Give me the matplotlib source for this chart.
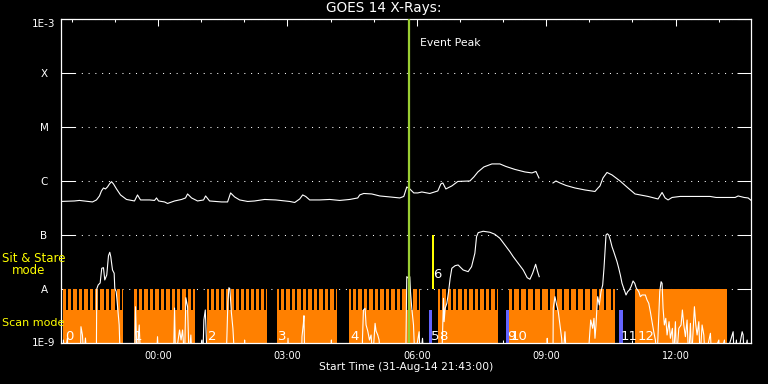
#----------GOES X-ray summary plot----------
#Long and short channel flux with scan / sit & stare mode strip along the bottom
#Times are hours from 01-Sep-14 00:00, fluxes are log10 (W/m^2)

import matplotlib
matplotlib.use("Agg")
import matplotlib.pyplot as plt
from matplotlib.ticker import MultipleLocator, NullLocator
import numpy as np

#---Data---
StartHour = -(2 + 43/60 - 0.4667)   #21:43 on 31-Aug
EndHour = StartHour + 16.0
EventPeak = 5.815

#1-8 A channel, (hour, log10 flux); nan = data gap
LongChannel = [
    (-2.263, -6.384), (-1.938, -6.375), (-1.822, -6.365), (-1.520, -6.393), (-1.428, -6.356),
    (-1.358, -6.282), (-1.312, -6.189), (-1.265, -6.134), (-1.219, -6.152), (-1.172, -6.115),
    (-1.126, -6.059), (-1.079, -6.017), (-1.033, -6.059), (-0.963, -6.152), (-0.870, -6.263),
    (-0.731, -6.347), (-0.546, -6.375), (-0.476, -6.263), (-0.406, -6.356), (-0.197, -6.356),
    (-0.081, -6.365), (-0.035, -6.319), (0.012, -6.375), (0.151, -6.393), (0.221, -6.421),
    (0.383, -6.375), (0.546, -6.347), (0.638, -6.319), (0.685, -6.245), (0.778, -6.319),
    (0.917, -6.375), (1.056, -6.356), (1.103, -6.282), (1.195, -6.375), (1.474, -6.393),
    (1.613, -6.393), (1.683, -6.226), (1.776, -6.300), (1.892, -6.356), (2.078, -6.384),
    (2.240, -6.375), (2.472, -6.347), (2.728, -6.356), (3.053, -6.384), (3.169, -6.403),
    (3.285, -6.338), (3.354, -6.263), (3.424, -6.291), (3.517, -6.356), (3.749, -6.356),
    (3.981, -6.347), (4.213, -6.365), (4.445, -6.347), (4.631, -6.319), (4.677, -6.263),
    (4.770, -6.236), (4.956, -6.245), (5.142, -6.282), (5.374, -6.300), (5.606, -6.319),
    (5.699, -6.291), (5.768, -6.115), (5.838, -6.152), (5.931, -6.226), (6.024, -6.226),
    (6.117, -6.208), (6.302, -6.236), (6.488, -6.189), (6.558, -6.059), (6.604, -6.041),
    (6.674, -6.152), (6.813, -6.096), (6.952, -6.013), (7.231, -6.004), (7.324, -5.929),
    (7.417, -5.837), (7.556, -5.744), (7.742, -5.688), (7.927, -5.688), (8.067, -5.735),
    (8.276, -5.790), (8.508, -5.837), (8.670, -5.855), (8.763, -5.827), (8.833, -5.948),
    (9.000, np.nan),
    (9.158, -6.041), (9.227, -6.004), (9.320, -6.041), (9.459, -6.087), (9.668, -6.134),
    (9.900, -6.171), (10.132, -6.199), (10.202, -6.134), (10.248, -6.096), (10.318, -5.948),
    (10.411, -5.846), (10.527, -5.892), (10.713, -6.004), (10.898, -6.134), (11.061, -6.245),
    (11.363, -6.291), (11.595, -6.338), (11.688, -6.217), (11.758, -6.319), (11.827, -6.356),
    (11.920, -6.310), (12.106, -6.291), (12.570, -6.291), (12.802, -6.291), (12.941, -6.310),
    (13.150, -6.310), (13.382, -6.310), (13.452, -6.282), (13.591, -6.310), (13.684, -6.319),
    (13.754, -6.365),
]

#0.5-4 A channel, -9.3 = below the plot floor
ShortChannel = [
    (-2.263, -9.3), (-2.200, -9.3), (-2.194, -8.954), (-2.170, -9.3), (-2.101, -8.917),
    (-2.080, -9.3), (-1.800, -9.3), (-1.787, -8.707), (-1.753, -8.861), (-1.720, -9.3),
    (-1.683, -8.917), (-1.650, -9.3), (-1.430, -9.3), (-1.421, -8.007), (-1.388, -7.933),
    (-1.342, -7.896), (-1.305, -7.623), (-1.265, -7.612), (-1.235, -7.840), (-1.189, -7.748),
    (-1.149, -7.390), (-1.119, -7.327), (-1.096, -7.408), (-1.072, -7.562), (-1.056, -7.655),
    (-1.017, -7.716), (-1.003, -7.994), (-0.970, -8.057), (-0.956, -8.174), (-0.901, -8.675),
    (-0.877, -9.3), (-0.539, -9.3), (-0.522, -8.336), (-0.487, -9.3), (-0.436, -8.675),
    (-0.406, -9.3), (-0.035, -9.3), (-0.012, -8.892), (0.012, -9.3), (0.360, -9.3),
    (0.383, -8.360), (0.406, -9.3), (0.499, -8.768), (0.534, -8.954), (0.569, -8.768),
    (0.615, -9.3), (0.645, -8.169), (0.685, -8.336), (0.720, -9.3), (0.761, -8.861),
    (0.789, -9.3), (0.995, -9.3), (1.017, -8.954), (1.040, -9.3), (1.063, -8.583),
    (1.096, -8.397), (1.119, -8.922), (1.137, -9.3), (1.580, -9.3), (1.597, -8.892),
    (1.620, -8.243), (1.644, -7.983), (1.667, -8.007), (1.699, -8.429), (1.736, -8.737),
    (1.776, -9.3), (1.995, -9.3), (2.008, -8.954), (2.020, -9.3), (3.000, -9.3),
    (3.014, -8.922), (3.030, -9.3), (3.331, -9.3), (3.338, -8.892), (3.371, -8.644),
    (3.384, -8.503), (3.401, -9.3), (4.010, -9.3), (4.020, -8.954), (4.030, -9.3),
    (4.735, -9.3), (4.740, -8.954), (4.763, -8.397), (4.801, -8.365), (4.824, -8.675),
    (4.863, -8.787), (4.903, -8.954), (4.940, -8.861), (4.979, -9.3), (5.033, -8.644),
    (5.056, -8.787), (5.095, -8.861), (5.126, -8.954), (5.153, -9.3), (5.745, -9.3),
    (5.768, -7.779), (5.808, -7.809), (5.838, -7.779), (5.854, -8.057), (5.884, -8.365),
    (5.924, -8.675), (5.954, -9.3), (6.054, -8.800), (6.082, -9.3), (6.133, -8.922),
    (6.163, -9.3), (6.581, -9.3), (6.620, -8.180), (6.634, -8.614), (6.658, -8.365),
    (6.697, -8.273), (6.737, -8.057), (6.774, -7.809), (6.813, -7.623), (6.890, -7.575),
    (6.959, -7.562), (7.075, -7.655), (7.191, -7.686), (7.270, -7.594), (7.347, -7.345),
    (7.386, -7.037), (7.424, -6.963), (7.540, -6.937), (7.695, -6.955), (7.811, -6.993),
    (7.927, -7.067), (8.043, -7.191), (8.159, -7.315), (8.236, -7.408), (8.352, -7.531),
    (8.468, -7.655), (8.561, -7.798), (8.624, -7.827), (8.686, -7.716), (8.756, -7.549),
    (8.802, -7.686), (8.839, -7.779),
    (8.950, np.nan),
    (9.018, -9.3), (9.025, -8.922), (9.040, -9.3), (9.158, -9.3), (9.165, -8.365),
    (9.204, -8.150), (9.243, -8.304), (9.281, -8.429), (9.320, -8.675), (9.359, -8.922),
    (9.390, -9.3), (9.436, -8.800), (9.471, -9.3), (9.970, -9.3), (10.033, -8.583),
    (10.079, -8.737), (10.109, -8.551), (10.132, -8.922), (10.156, -8.675), (10.172, -8.429),
    (10.195, -8.150), (10.232, -8.304), (10.272, -8.057), (10.311, -7.933), (10.341, -7.623),
    (10.365, -7.315), (10.388, -7.006), (10.418, -6.983), (10.451, -7.006), (10.488, -7.098),
    (10.527, -7.223), (10.567, -7.315), (10.604, -7.408), (10.643, -7.501), (10.683, -7.623),
    (10.720, -7.748), (10.759, -7.902), (10.813, -8.026), (10.852, -8.119), (10.891, -8.057),
    (10.929, -8.026), (10.968, -7.965), (11.015, -7.859), (11.054, -7.902), (11.091, -7.994),
    (11.147, -8.057), (11.184, -8.150), (11.224, -8.119), (11.300, -8.119), (11.339, -8.211),
    (11.379, -8.273), (11.416, -8.429), (11.456, -8.614), (11.495, -8.800), (11.533, -8.954),
    (11.572, -9.3), (11.634, -8.057), (11.665, -7.872), (11.688, -7.902), (11.711, -8.365),
    (11.741, -8.675), (11.774, -8.551), (11.804, -8.861), (11.850, -8.614), (11.881, -8.922),
    (11.927, -8.737), (11.955, -9.3), (11.997, -8.614), (12.024, -9.3), (12.076, -8.737),
    (12.129, -8.675), (12.159, -8.397), (12.192, -8.675), (12.229, -8.892), (12.268, -8.583),
    (12.303, -9.3), (12.345, -8.644), (12.373, -9.3), (12.438, -8.336), (12.470, -8.675),
    (12.500, -8.861), (12.540, -8.614), (12.570, -9.3), (12.616, -8.675), (12.656, -8.861),
    (12.686, -9.3), (12.809, -8.829), (12.837, -9.3), (13.004, -8.954), (13.020, -9.3),
    (13.134, -8.954), (13.150, -9.3), (13.336, -8.800), (13.359, -9.3), (13.412, -8.954),
    (13.430, -9.3), (13.545, -8.800), (13.568, -8.861), (13.591, -9.3), (13.661, -8.954),
    (13.684, -9.3), (13.717, -9.3),
]

#Scan mode blocks (start hour, end hour) and number of raster steps in each
ScanStarts = [-2.194, -0.546, 1.126, 2.751, 4.422, 6.488, 8.136, 11.061]
ScanEnds = [-0.801, 0.847, 2.519, 4.143, 6.070, 7.881, 10.597, 13.197]
ScanSteps = [11, 11, 12, 11, 13, 11, 15, 0]

SlewTimes = [6.314, 8.101, 10.736]
SitStareTimes = [6.38]

OrbitLabels = ["0", "1", "2", "3", "4", "5", "8", "9", "10", "11", "12"]
OrbitHours = [-2.163, -0.569, 1.149, 2.774, 4.469, 6.326, 6.511, 8.090, 8.183, 10.736, 11.130]
SitStareLabel = "6"
SitStareLabelHour = 6.372

YTicks = [1e-9, 1e-8, 1e-7, 1e-6, 1e-5, 1e-4, 1e-3]
YTickLabels = ["1E-9", "A", "B", "C", "M", "X", "1E-3"]
XTicks = [0, 3, 6, 9, 12]
XTickLabels = ["00:00", "03:00", "06:00", "09:00", "12:00"]

#---Style---
Orange = "#ff8000"
Blue = "#6464ff"
Yellow = "#ffff00"
Green = "#9acd32"
Floor = 1e-9
ModeTop = 1e-8
StepLow = 4e-9
StepWidth = 0.046

plt.rcParams['font.family'] = ['DejaVu Sans']

fig = plt.figure(figsize=(7.68, 3.84), dpi=100, facecolor="black")
ax = fig.add_axes([61/768, 1 - 342.5/384, 690/768, 323.5/384])
ax.set_facecolor("black")
ax.set_yscale("log")
ax.set_ylim(1e-9, 1e-3)
ax.set_xlim(StartHour, EndHour)

#mode strip
Starts = np.array(ScanStarts)
Ends = np.array(ScanEnds)
ax.bar((Starts + Ends) / 2, ModeTop - Floor, width=Ends - Starts, bottom=Floor,
       color=Orange, linewidth=0, zorder=1.6)
for S, E, N in zip(ScanStarts, ScanEnds, ScanSteps):
    if N:
        Step = (E - S) / N
        Gaps = S + (np.arange(N) + 0.6) * Step
        ax.bar(Gaps, ModeTop - StepLow, width=StepWidth, bottom=StepLow,
               color="black", linewidth=0, zorder=1.7)
ax.bar(SlewTimes, StepLow - Floor, width=0.075, bottom=Floor, color=Blue, linewidth=0, zorder=1.8)
ax.bar(SitStareTimes, 1e-7 - ModeTop, width=0.05, bottom=ModeTop, color=Yellow, linewidth=0, zorder=1.8)

#flux curves
Long = np.array(LongChannel)
Short = np.array(ShortChannel)
ax.plot(Long[:, 0], 10 ** Long[:, 1], color="white", lw=0.8, zorder=3)
ax.plot(Short[:, 0], 10 ** Short[:, 1], color="white", lw=0.8, zorder=3)

ax.axvline(EventPeak, color=Green, lw=1.6, zorder=4)
ax.annotate("Event Peak", xy=(EventPeak, 1e-3), xytext=(8, -17.5), textcoords="offset points",
            color="white", fontsize=7.8, va="center", ha="left")

for Lab, H in zip(OrbitLabels, OrbitHours):
    ax.text(H, 1.1e-9, Lab, color="white", fontsize=9.5, va="baseline", ha="left", zorder=3.5)
ax.text(SitStareLabelHour, 1.57e-8, SitStareLabel, color="white", fontsize=9.5,
        va="baseline", ha="left", zorder=3.5)

#axes and ticks
for Side in ax.spines.values():
    Side.set_color("white")
    Side.set_linewidth(0.9)
ax.set_yticks(YTicks)
ax.set_yticklabels(YTickLabels)
ax.yaxis.set_minor_locator(NullLocator())
ax.tick_params(axis="y", which="major", direction="in", length=10.3, width=0.75,
               left=True, right=True, colors="white", labelsize=7.5, pad=12.2)
for Lab in ax.get_yticklabels():
    Lab.set_horizontalalignment("center")
ax.get_yticklabels()[-1].set_verticalalignment("top")
ax.grid(axis="y", which="major", color="white", linewidth=0.75, linestyle=(0, (1, 5.5)))

ax.set_xticks(XTicks)
ax.set_xticklabels(XTickLabels)
ax.xaxis.set_minor_locator(MultipleLocator(1))
ax.tick_params(axis="x", which="major", direction="in", length=4.8, width=0.75,
               top=True, bottom=True, colors="white", labelsize=7, pad=6)
ax.tick_params(axis="x", which="minor", direction="in", length=2.2, width=0.75,
               top=True, bottom=True, colors="white")

fig.text(384/768, 1 - 8/384, "GOES 14 X-Rays:", color="white", fontsize=9.8, ha="center", va="center")
fig.text(406/768, 1 - 367/384, "Start Time (31-Aug-14 21:43:00)", color="white", fontsize=7.7,
         ha="center", va="center")
fig.text(2/768, 1 - 258/384, "Sit & Stare", color=Yellow, fontsize=8.5, ha="left", va="center")
fig.text(12/768, 1 - 271/384, "mode", color=Yellow, fontsize=8.5, ha="left", va="center")
fig.text(2/768, 1 - 323/384, "Scan mode", color=Yellow, fontsize=8, ha="left", va="center")

fig.savefig("out.png", dpi=100, facecolor="black")
